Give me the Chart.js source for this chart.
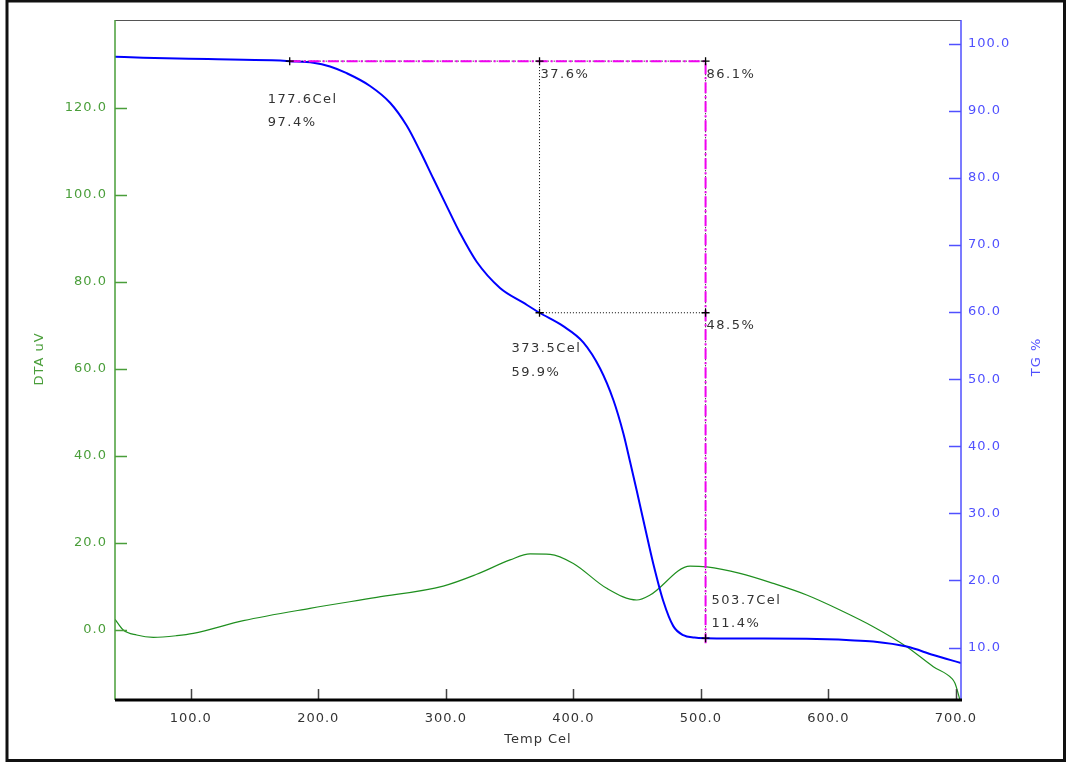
<!DOCTYPE html>
<html>
<head>
<meta charset="utf-8">
<title>DTA / TG</title>
<script src="https://cdn.jsdelivr.net/npm/chart.js@4.4.1/dist/chart.umd.min.js"></script>
<style>
  html, body { margin: 0; padding: 0; background: #fff; }
  canvas { display: block; }
</style>
</head>
<body>
<canvas id="thermo" width="1072" height="762"></canvas>
<script>
// TG curve: mass % against temperature
const tgTemp = [40.6, 62.7, 113.5, 163.7, 177.6, 196.1, 209.2, 222.3, 240.6, 256.3, 269.3, 279.8, 290.2, 300.7,
  311.1, 324.2, 342.5, 360.8, 373.5, 392.1, 407.8, 421.0, 431.4, 439.2, 444.5, 449.7, 456.2, 462.7, 470.6,
  478.4, 486.2, 495.0, 503.7, 530.7, 583.0, 617.0, 635.2, 661.4, 682.3, 704.0];
const tgMass = [98.06, 97.9, 97.7, 97.52, 97.4, 97.17, 96.6, 95.6, 93.7, 91.2, 87.8, 84.0, 79.9, 75.8,
  71.8, 67.5, 63.6, 61.4, 59.9, 57.9, 55.5, 51.6, 46.9, 41.95, 37.7, 33.4, 27.9, 22.5, 16.9,
  13.2, 11.85, 11.5, 11.4, 11.35, 11.3, 11.1, 10.9, 10.15, 8.9, 7.7];

// DTA curve: signal in uV against temperature
const dtaTemp = [40.6, 47.1, 57.6, 70.7, 89.0, 102.0, 141.2, 193.5, 245.8, 298.0, 324.2, 350.4, 366.1, 381.8,
  400.0, 426.2, 449.7, 460.2, 491.5, 504.6, 530.7, 556.8, 583.0, 609.1, 635.2, 661.4, 682.3, 696.7, 699.3, 703.2];
const dtaSignal = [2.46, 0, -1.15, -1.68, -1.3, -0.77, 2.14, 4.98, 7.5, 10.1, 12.8, 16.1, 17.5, 17.4,
  15.3, 9.58, 6.9, 8.04, 14.7, 14.5, 13.0, 10.7, 8.04, 4.6, 0.76, -3.84, -8.43, -11.1, -12.25, -16.1];

const tempTicks = [100, 200, 300, 400, 500, 600, 700];
const dtaTicks = [0, 20, 40, 60, 80, 100, 120];
const tgTicks = [10, 20, 30, 40, 50, 60, 70, 80, 90, 100];

// step analysis: onset points and the mass losses between them
const stepTemp = [177.6, 373.5, 503.7];
const stepMass = [97.4, 59.9, 11.4];
const stepLoss = ['37.6%', '86.1%', '48.5%'];

const GREEN = '#4a9e3a';
const BLUE = '#5050ff';
const FONT = '13px "DejaVu Sans"';

function label(ctx, s, x, y, color, align, spacing) {
  ctx.font = FONT;
  ctx.letterSpacing = (spacing || 1) + 'px';
  ctx.fillStyle = color;
  ctx.textAlign = align || 'left';
  ctx.textBaseline = 'middle';
  ctx.fillText(s, x, y);
}

function cross(ctx, x, y) {
  ctx.beginPath();
  ctx.moveTo(x - 4, y); ctx.lineTo(x + 4, y);
  ctx.moveTo(x, y - 4); ctx.lineTo(x, y + 4);
  ctx.stroke();
}

const axesAndMarks = {
  id: 'axesAndMarks',
  afterDatasetsDraw(chart) {
    const { ctx, chartArea: a, scales } = chart;
    const sx = scales.x, yl = scales.yDTA, yr = scales.yTG;
    ctx.save();

    // step lines
    const p = stepTemp.map((t, i) => ({ x: sx.getPixelForValue(t), y: yr.getPixelForValue(stepMass[i]) }));
    const topY = p[0].y;
    ctx.strokeStyle = '#000';
    ctx.lineWidth = 1;
    ctx.setLineDash([1, 2]);
    ctx.beginPath();
    ctx.moveTo(p[1].x, topY); ctx.lineTo(p[1].x, p[1].y);
    ctx.lineTo(p[2].x, p[1].y);
    ctx.moveTo(p[0].x, topY); ctx.lineTo(p[2].x, topY);
    ctx.lineTo(p[2].x, p[2].y);
    ctx.stroke();

    ctx.strokeStyle = '#f000f0';
    ctx.lineWidth = 2;
    ctx.setLineDash([11, 3, 2, 3]);
    ctx.beginPath();
    ctx.moveTo(p[0].x, topY); ctx.lineTo(p[2].x, topY);
    ctx.lineTo(p[2].x, p[2].y + 5);
    ctx.stroke();
    ctx.setLineDash([]);

    ctx.strokeStyle = '#000';
    ctx.lineWidth = 1.3;
    cross(ctx, p[0].x, topY);
    cross(ctx, p[1].x, topY);
    cross(ctx, p[2].x, topY);
    cross(ctx, p[1].x, p[1].y);
    cross(ctx, p[2].x, p[1].y);
    cross(ctx, p[2].x, p[2].y);

    const ink = '#333';
    label(ctx, stepTemp[0].toFixed(1) + 'Cel', p[0].x - 22, p[0].y + 38, ink, 'left', 1.5);
    label(ctx, stepMass[0].toFixed(1) + '%', p[0].x - 22, p[0].y + 61, ink, 'left', 1.5);
    label(ctx, stepTemp[1].toFixed(1) + 'Cel', p[1].x - 28, p[1].y + 36, ink, 'left', 1.5);
    label(ctx, stepMass[1].toFixed(1) + '%', p[1].x - 28, p[1].y + 60, ink, 'left', 1.5);
    label(ctx, stepTemp[2].toFixed(1) + 'Cel', p[2].x + 6, p[2].y - 38, ink, 'left', 1.5);
    label(ctx, stepMass[2].toFixed(1) + '%', p[2].x + 6, p[2].y - 15, ink, 'left', 1.5);
    label(ctx, stepLoss[0], p[1].x + 1, topY + 13, ink, 'left', 1.5);
    label(ctx, stepLoss[1], p[2].x + 1, topY + 13, ink, 'left', 1.5);
    label(ctx, stepLoss[2], p[2].x + 1, p[1].y + 13, ink, 'left', 1.5);

    // plot box
    ctx.strokeStyle = '#555';
    ctx.lineWidth = 1;
    ctx.beginPath();
    ctx.moveTo(a.left, a.top + 0.5); ctx.lineTo(a.right, a.top + 0.5);
    ctx.stroke();

    ctx.strokeStyle = GREEN;
    ctx.lineWidth = 1.5;
    ctx.beginPath();
    ctx.moveTo(a.left, a.top); ctx.lineTo(a.left, a.bottom);
    yl.ticks.forEach(t => {
      const y = Math.round(yl.getPixelForValue(t.value)) + 0.5;
      ctx.moveTo(a.left, y); ctx.lineTo(a.left + 12, y);
    });
    ctx.stroke();
    yl.ticks.forEach(t => label(ctx, t.value.toFixed(1), a.left - 8, yl.getPixelForValue(t.value), GREEN, 'right'));

    ctx.strokeStyle = BLUE;
    ctx.beginPath();
    ctx.moveTo(a.right, a.top); ctx.lineTo(a.right, a.bottom);
    yr.ticks.forEach(t => {
      const y = Math.round(yr.getPixelForValue(t.value)) + 0.5;
      ctx.moveTo(a.right, y); ctx.lineTo(a.right - 12, y);
    });
    ctx.stroke();
    yr.ticks.forEach(t => label(ctx, t.value.toFixed(1), a.right + 7, yr.getPixelForValue(t.value), BLUE, 'left'));

    ctx.strokeStyle = '#444';
    ctx.lineWidth = 1.5;
    ctx.beginPath();
    sx.ticks.forEach(t => {
      const x = Math.round(sx.getPixelForValue(t.value)) + 0.5;
      ctx.moveTo(x, a.bottom); ctx.lineTo(x, a.bottom - 11);
    });
    ctx.stroke();
    sx.ticks.forEach(t => label(ctx, t.value.toFixed(1), sx.getPixelForValue(t.value), a.bottom + 19, '#333', 'center'));

    ctx.strokeStyle = '#000';
    ctx.lineWidth = 3;
    ctx.beginPath();
    ctx.moveTo(a.left, a.bottom); ctx.lineTo(a.right + 1, a.bottom);
    ctx.stroke();

    // axis titles
    label(ctx, 'Temp Cel', (a.left + a.right) / 2, a.bottom + 40, '#333', 'center');
    ctx.save();
    ctx.translate(40, 359);
    ctx.rotate(-Math.PI / 2);
    label(ctx, 'DTA uV', 0, 0, GREEN, 'center');
    ctx.restore();
    ctx.save();
    ctx.translate(1037, 357);
    ctx.rotate(-Math.PI / 2);
    label(ctx, 'TG %', 0, 0, BLUE, 'center');
    ctx.restore();

    // outer frame
    ctx.strokeStyle = '#111';
    ctx.lineWidth = 3;
    ctx.strokeRect(7, 1, 1057.5, 759.5);
    ctx.restore();
  }
};

const hidden = { ticks: { display: false }, grid: { display: false }, border: { display: false } };

new Chart(document.getElementById('thermo').getContext('2d'), {
  type: 'line',
  data: {
    datasets: [
      {
        label: 'TG',
        data: tgTemp.map((t, i) => ({ x: t, y: tgMass[i] })),
        yAxisID: 'yTG',
        borderColor: '#0000ff',
        borderWidth: 2,
        pointRadius: 0,
        cubicInterpolationMode: 'monotone',
        order: 1
      },
      {
        label: 'DTA',
        data: dtaTemp.map((t, i) => ({ x: t, y: dtaSignal[i] })),
        yAxisID: 'yDTA',
        borderColor: '#1f8f1f',
        borderWidth: 1.2,
        pointRadius: 0,
        cubicInterpolationMode: 'monotone',
        order: 2
      }
    ]
  },
  options: {
    responsive: false,
    animation: false,
    layout: { padding: { top: 20, left: 0, right: 0, bottom: 0 } },
    plugins: { legend: { display: false }, tooltip: { enabled: false } },
    scales: {
      x: {
        type: 'linear', min: 40.6, max: 704.0, ...hidden,
        afterBuildTicks: s => { s.ticks = tempTicks.map(v => ({ value: v })); },
        afterFit: s => { s.height = 62; }
      },
      yDTA: {
        position: 'left', min: -16.08, max: 140.15, ...hidden,
        afterBuildTicks: s => { s.ticks = dtaTicks.map(v => ({ value: v })); },
        afterFit: s => { s.width = 115; }
      },
      yTG: {
        position: 'right', min: 2.19, max: 103.53, ...hidden,
        afterBuildTicks: s => { s.ticks = tgTicks.map(v => ({ value: v })); },
        afterFit: s => { s.width = 111; }
      }
    }
  },
  plugins: [axesAndMarks]
});
</script>
</body>
</html>
